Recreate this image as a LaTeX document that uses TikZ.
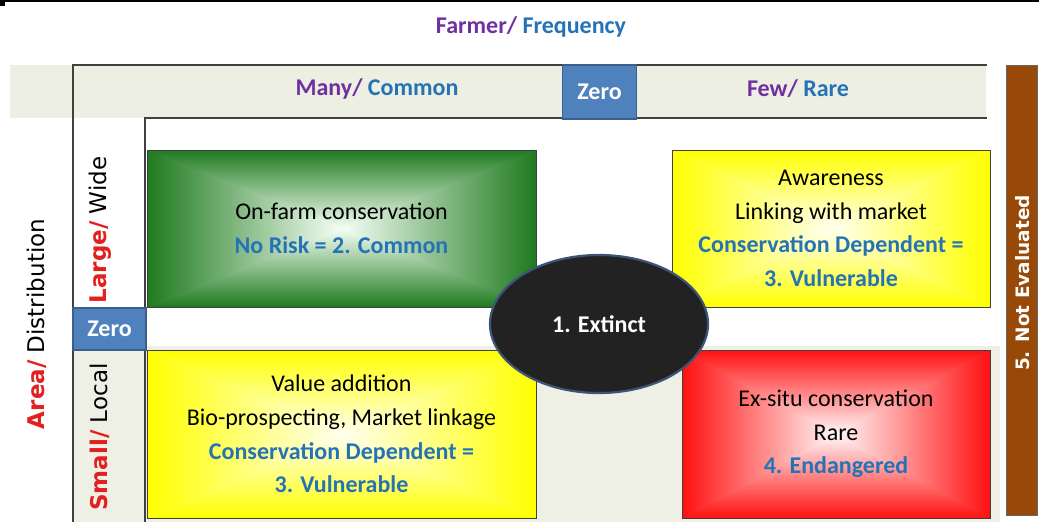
\documentclass[tikz,border=0pt]{standalone}
\usepackage{fontspec}
\setmainfont{Carlito}
\newfontfamily\vfont{DejaVu Sans}
\usetikzlibrary{shapes.geometric}
\definecolor{hdrbeige}{HTML}{EDEFE3}
\definecolor{lowbeige}{HTML}{EEF0E5}
\definecolor{purp}{HTML}{7030A0}
\definecolor{blu}{HTML}{2473B7}
\definecolor{redt}{HTML}{E3201F}
\definecolor{zerofill}{HTML}{4F81BD}
\definecolor{zeroedge}{HTML}{3A5F8C}
\definecolor{brownbar}{HTML}{984807}
\definecolor{greenedge}{HTML}{1F7A1F}
\definecolor{yelledge}{HTML}{FFFF00}
\definecolor{rededge}{HTML}{FF1010}
\definecolor{ellfill}{HTML}{222222}
\definecolor{elledge}{HTML}{3B5478}
\pgfdeclarelayer{back}
\pgfdeclarelayer{shade}
\pgfsetlayers{back,shade,main}
\newcommand\rectgrad[3]{%
  \shade[top color=#2, bottom color=#3] (#1.north west) rectangle (#1.east);
  \shade[top color=#3, bottom color=#2] (#1.west) rectangle (#1.south east);
  \shade[left color=#2, right color=#3] (#1.north west) -- (#1.south west) -- (#1.center) -- cycle;
  \shade[left color=#3, right color=#2] (#1.north east) -- (#1.south east) -- (#1.center) -- cycle;
}
\begin{document}
\begin{tikzpicture}[x=1pt,y=-1pt,
  sidetxt/.style={font=\vfont\fontsize{23}{27}\selectfont, inner sep=0, outer sep=0, rotate=90},
  boldtxt/.style={font=\fontsize{24}{28}\selectfont\bfseries, inner sep=0, outer sep=0},
  qbox/.style={draw=black!75, line width=0.8pt, inner sep=0, outer sep=0, align=center,
    font=\fontsize{24}{33.5}\selectfont},
  zerobox/.style={fill=zerofill, draw=zeroedge, line width=1.2pt, text=white,
    font=\fontsize{24}{28}\selectfont\bfseries, inner sep=0, outer sep=0},
  frame/.style={draw=black!75, line width=1.2pt}]
\useasboundingbox (0,0) rectangle (1039,522);

% background regions
\begin{pgfonlayer}{back}
  \fill[white] (0,0) rectangle (1039,522);
  \fill[hdrbeige] (10,65) rectangle (986,118);
  \fill[lowbeige] (145,346) rectangle (1000,522);
  \fill[lowbeige] (73,350) rectangle (145,522);
  \fill[black] (0,0) rectangle (5,6);
  \draw[black, line width=1.5pt] (0,1) -- (1039,1);
\end{pgfonlayer}

% frame lines
\coordinate (ftl) at (73,65);
\coordinate (ftr) at (987,65);
\coordinate (fbl) at (73,522);
\coordinate (itl) at (145,118);
\coordinate (itr) at (987,118);
\coordinate (ibl) at (145,522);
\draw[frame] (fbl) -- (ftl) -- (ftr);
\draw[frame] (ibl) -- (itl) -- (itr);

% titles
\node[boldtxt] (title) at (531,27)
  {\textcolor{purp}{Farmer/} \textcolor{blu}{Frequency}};
\node[boldtxt] (many) at (377,89)
  {\textcolor{purp}{Many/} \textcolor{blu}{Common}};
\node[boldtxt] (few) at (798,89)
  {\textcolor{purp}{Few/} \textcolor{blu}{Rare}};
\node[zerobox, minimum width=74pt, minimum height=54pt] (zerotop) at (599.5,92) {Zero};
\node[zerobox, minimum width=73pt, minimum height=42pt] (zeroleft) at (109.5,329) {Zero};

\node[sidetxt] (area) at (37,324)
  {\textcolor{redt}{\bfseries Area/} Distribution};
\node[sidetxt] (large) at (100,230)
  {\textcolor{redt}{\bfseries Large/} Wide};
\node[sidetxt] (small) at (100,437)
  {\textcolor{redt}{\bfseries Small/} Local};

% quadrant boxes
\node[qbox, minimum width=389pt, minimum height=157pt] (green) at (341.5,228.5)
  {On-farm conservation\\ \textcolor{blu}{\bfseries No Risk = 2. Common}};
\node[qbox, minimum width=318pt, minimum height=157pt] (yeltop) at (831,228.5)
  {Awareness\\ Linking with market\\ \textcolor{blu}{\bfseries Conservation Dependent =}\\ \textcolor{blu}{\bfseries 3. Vulnerable}};
\node[qbox, minimum width=389pt, minimum height=168pt] (yelbot) at (341.5,434)
  {Value addition\\ Bio-prospecting, Market linkage\\ \textcolor{blu}{\bfseries Conservation Dependent =}\\ \textcolor{blu}{\bfseries 3. Vulnerable}};
\node[qbox, minimum width=308pt, minimum height=168pt] (red) at (836,434)
  {Ex-situ conservation\\ Rare\\ \textcolor{blu}{\bfseries 4. Endangered}};

\begin{pgfonlayer}{shade}
  \rectgrad{green}{greenedge}{green!4!white}
  \rectgrad{yeltop}{yelledge}{yellow!6!white}
  \rectgrad{yelbot}{yelledge}{yellow!6!white}
  \rectgrad{red}{rededge}{red!3!white}
\end{pgfonlayer}

% extinct ellipse
\node[ellipse, fill=ellfill, draw=elledge, line width=2.2pt, minimum width=218pt,
  minimum height=138pt, inner sep=0, text=white,
  font=\fontsize{24}{28}\selectfont\bfseries] (extinct) at (599,324) {1. Extinct};

% not evaluated bar
\node[fill=brownbar, draw=black!60, line width=1pt, minimum width=31pt,
  minimum height=450pt, inner sep=0] (notev) at (1022,290) {};
\node[sidetxt, text=white, font=\vfont\fontsize{18.5}{22}\selectfont\bfseries]
  (notevtxt) at (1023,283) {5. Not Evaluated};
\end{tikzpicture}
\end{document}
